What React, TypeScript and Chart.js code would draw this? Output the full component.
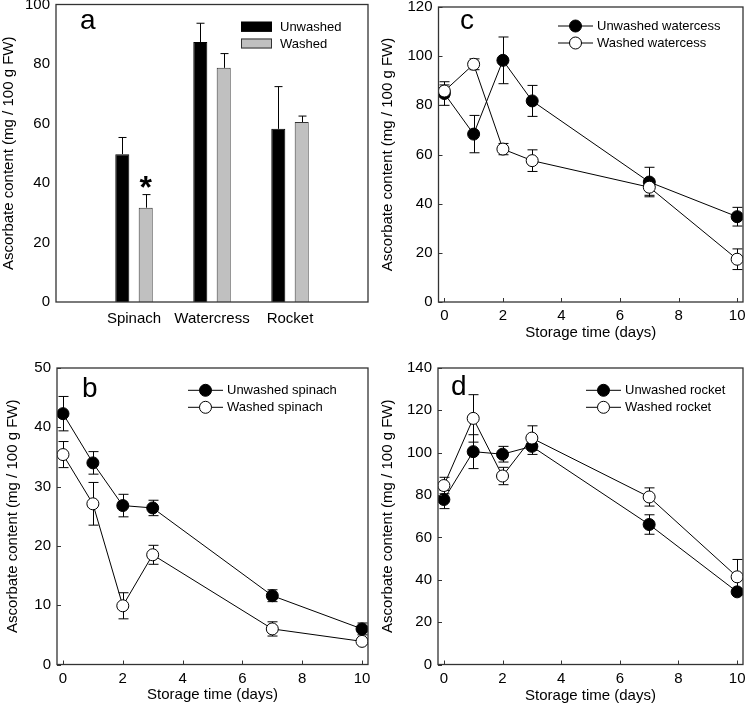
import React, { useEffect, useRef } from 'react';
import { Chart, registerables } from 'chart.js';
Chart.register(...registerables);

const FONT = "'Liberation Sans', Arial, Helvetica, sans-serif";
const W = 375;
const H = 353;

// ---- data ----
const categories = ['Spinach', 'Watercress', 'Rocket'];
const unwashedBar = [49.7, 87.4, 58.2];
const unwashedBarErr = [5.6, 6.3, 14.2];
const washedBar = [31.7, 78.7, 60.5];
const washedBarErr = [4.4, 4.8, 2.0];

const days = [0, 1, 2, 3, 7, 10];
const dayTicks = [0, 2, 4, 6, 8, 10];

const unwashedSpinach = [42.3, 34.0, 26.8, 26.4, 11.6, 6.0];
const unwashedSpinachErr = [2.9, 1.9, 1.9, 1.3, 1.0, 1.0];
const washedSpinach = [35.4, 27.1, 9.9, 18.5, 6.0, 3.9];
const washedSpinachErr = [2.2, 3.6, 2.2, 1.6, 1.2, 0.5];

const unwashedWatercress = [84.8, 68.3, 98.3, 81.8, 48.8, 34.7];
const unwashedWatercressErr = [4.8, 7.6, 9.5, 6.3, 6.0, 3.8];
const washedWatercress = [85.8, 96.7, 62.2, 57.5, 46.7, 17.4];
const washedWatercressErr = [2.5, 2.2, 2.3, 4.4, 3.3, 4.2];

const unwashedRocket = [77.9, 100.5, 99.3, 103.0, 66.1, 34.3];
const unwashedRocketErr = [4.3, 8.0, 3.7, 3.8, 4.6, 1.5];
const washedRocket = [84.5, 116.2, 89.0, 106.9, 79.1, 41.4];
const washedRocketErr = [3.9, 11.2, 4.1, 5.8, 4.3, 8.2];

const Y_TITLE = 'Ascorbate content (mg / 100 g FW)';
const X_TITLE = 'Storage time (days)';

type Area = { left: number; top: number; right: number; bottom: number };

function drawFrame(chart: any) {
  const { ctx, chartArea } = chart;
  ctx.save();
  ctx.strokeStyle = '#333';
  ctx.lineWidth = 1.3;
  ctx.strokeRect(chartArea.left, chartArea.top, chartArea.right - chartArea.left, chartArea.bottom - chartArea.top);
  ctx.restore();
}

function lineConfig(p: {
  letter: string;
  letterX: number;
  letterY: number;
  area: Area;
  yMax: number;
  yStep: number;
  names: string[];
  series: number[][];
  errors: number[][];
  legendX: number;
  legendY: number;
  yTitlePad: number;
  xTitlePad: number;
}) {
  const plugin = {
    id: 'panel',
    beforeDatasetsDraw(chart: any) {
      const ctx = chart.ctx;
      const xs = chart.scales.x;
      const ys = chart.scales.y;
      ctx.save();
      ctx.strokeStyle = '#000';
      ctx.lineWidth = 1;
      p.series.forEach((vals, si) => {
        vals.forEach((v, i) => {
          const e = p.errors[si][i];
          const px = Math.round(xs.getPixelForValue(days[i])) + 0.5;
          const y1 = ys.getPixelForValue(v + e);
          const y2 = ys.getPixelForValue(v - e);
          ctx.beginPath();
          ctx.moveTo(px, y1);
          ctx.lineTo(px, y2);
          ctx.moveTo(px - 5, y1);
          ctx.lineTo(px + 5, y1);
          ctx.moveTo(px - 5, y2);
          ctx.lineTo(px + 5, y2);
          ctx.stroke();
        });
      });
      ctx.restore();
    },
    afterDraw(chart: any) {
      const ctx = chart.ctx;
      const xs = chart.scales.x;
      const ys = chart.scales.y;
      const a = chart.chartArea;
      drawFrame(chart);
      ctx.save();
      ctx.strokeStyle = '#333';
      ctx.lineWidth = 1;
      dayTicks.forEach((t) => {
        const px = Math.round(xs.getPixelForValue(t)) + 0.5;
        ctx.beginPath();
        ctx.moveTo(px, a.bottom);
        ctx.lineTo(px, a.bottom - 4);
        ctx.stroke();
      });
      for (let v = 0; v <= p.yMax; v += p.yStep) {
        const py = Math.round(ys.getPixelForValue(v)) + 0.5;
        ctx.beginPath();
        ctx.moveTo(a.left, py);
        ctx.lineTo(a.left + 4, py);
        ctx.stroke();
      }
      // legend
      ctx.font = `13px ${FONT}`;
      ctx.textBaseline = 'middle';
      ctx.textAlign = 'left';
      p.names.forEach((name, i) => {
        const ry = p.legendY + i * 17;
        const lx = p.legendX;
        ctx.strokeStyle = '#000';
        ctx.lineWidth = 1;
        ctx.beginPath();
        ctx.moveTo(lx, ry);
        ctx.lineTo(lx + 35, ry);
        ctx.stroke();
        ctx.beginPath();
        ctx.arc(lx + 17.5, ry, 6, 0, Math.PI * 2);
        ctx.fillStyle = i === 0 ? '#000' : '#fff';
        ctx.fill();
        ctx.stroke();
        ctx.fillStyle = '#000';
        ctx.fillText(name, lx + 39, ry + 0.5);
      });
      ctx.font = `28px ${FONT}`;
      ctx.textBaseline = 'alphabetic';
      ctx.fillText(p.letter, p.letterX, p.letterY);
      ctx.restore();
    },
  };

  return {
    type: 'line',
    data: {
      datasets: p.series.map((vals, si) => ({
        label: p.names[si],
        data: vals.map((v, i) => ({ x: days[i], y: v })),
        borderColor: '#000',
        borderWidth: 1,
        pointRadius: 6,
        pointHoverRadius: 6,
        pointBackgroundColor: si === 0 ? '#000' : '#fff',
        pointBorderColor: '#000',
        pointBorderWidth: 1,
        order: si === 0 ? 1 : 0,
        tension: 0,
        fill: false,
      })),
    },
    options: {
      animation: false,
      responsive: false,
      maintainAspectRatio: false,
      events: [],
      layout: { padding: { left: 0, top: p.area.top, right: W - p.area.right, bottom: 0 } },
      plugins: { legend: { display: false }, tooltip: { enabled: false } },
      scales: {
        x: {
          type: 'linear',
          min: -0.2,
          max: 10.2,
          afterBuildTicks: (s: any) => {
            s.ticks = dayTicks.map((v) => ({ value: v }));
          },
          afterFit: (s: any) => {
            s.height = H - p.area.bottom;
            s.paddingLeft = 0;
            s.paddingRight = 0;
          },
          grid: { display: false, drawTicks: false },
          border: { display: false },
          ticks: { color: '#000', font: { family: FONT, size: 15 }, padding: 5, maxRotation: 0, autoSkip: false },
          title: { display: true, text: X_TITLE, color: '#000', font: { family: FONT, size: 15 }, padding: { top: 0, bottom: p.xTitlePad } },
        },
        y: {
          min: 0,
          max: p.yMax,
          ticks: { stepSize: p.yStep, color: '#000', font: { family: FONT, size: 15 }, padding: 6 },
          afterFit: (s: any) => {
            s.width = p.area.left;
            s.paddingTop = 0;
            s.paddingBottom = 0;
          },
          grid: { display: false, drawTicks: false },
          border: { display: false },
          title: { display: true, text: Y_TITLE, color: '#000', font: { family: FONT, size: 15 }, padding: { top: p.yTitlePad, bottom: 0 } },
        },
      },
    },
    plugins: [plugin],
  };
}

function barConfig() {
  const area: Area = { left: 56, top: 4.5, right: 368, bottom: 302 };
  const labels = ['', ...categories, ''];
  const plugin = {
    id: 'barPanel',
    afterDatasetsDraw(chart: any) {
      const ctx = chart.ctx;
      const ys = chart.scales.y;
      ctx.save();
      ctx.strokeStyle = '#000';
      ctx.lineWidth = 1;
      const errs = [unwashedBarErr, washedBarErr];
      const vals = [unwashedBar, washedBar];
      [0, 1].forEach((di) => {
        const meta = chart.getDatasetMeta(di);
        vals[di].forEach((v, i) => {
          const el = meta.data[i + 1];
          const px = Math.round(el.x) + 0.5;
          const y0 = ys.getPixelForValue(v);
          const y1 = ys.getPixelForValue(v + errs[di][i]);
          ctx.beginPath();
          ctx.moveTo(px, y0);
          ctx.lineTo(px, y1);
          ctx.moveTo(px - 4, y1);
          ctx.lineTo(px + 4, y1);
          ctx.stroke();
        });
      });
      // asterisk over washed spinach
      const el = chart.getDatasetMeta(1).data[1];
      ctx.fillStyle = '#000';
      ctx.font = `bold 32px ${FONT}`;
      ctx.textAlign = 'center';
      ctx.textBaseline = 'alphabetic';
      ctx.fillText('*', el.x, 198);
      ctx.restore();
    },
    afterDraw(chart: any) {
      const ctx = chart.ctx;
      drawFrame(chart);
      ctx.save();
      // legend
      const rows = [
        { name: 'Unwashed', fill: '#000', stroke: '#000' },
        { name: 'Washed', fill: '#c0c0c0', stroke: '#333' },
      ];
      ctx.font = `13px ${FONT}`;
      ctx.textBaseline = 'middle';
      ctx.textAlign = 'left';
      rows.forEach((r, i) => {
        const cy = 26.7 + i * 16.8;
        ctx.fillStyle = r.fill;
        ctx.fillRect(241, cy - 5, 31, 10);
        ctx.strokeStyle = r.stroke;
        ctx.lineWidth = 1;
        ctx.strokeRect(241.5, cy - 4.5, 30, 9);
        ctx.fillStyle = '#000';
        ctx.fillText(r.name, 280, cy + 0.5);
      });
      ctx.font = `28px ${FONT}`;
      ctx.textBaseline = 'alphabetic';
      ctx.fillText('a', 80, 29);
      ctx.restore();
    },
  };
  return {
    type: 'bar',
    data: {
      labels,
      datasets: [
        {
          label: 'Unwashed',
          data: [null, ...unwashedBar, null],
          backgroundColor: '#000',
          borderColor: '#000',
          borderWidth: 1,
          barPercentage: 0.6,
          categoryPercentage: 0.6,
        },
        {
          label: 'Washed',
          data: [null, ...washedBar, null],
          backgroundColor: '#c0c0c0',
          borderColor: '#333',
          borderWidth: 1,
          barPercentage: 0.6,
          categoryPercentage: 0.6,
        },
      ],
    },
    options: {
      animation: false,
      responsive: false,
      maintainAspectRatio: false,
      events: [],
      layout: { padding: { left: 0, top: area.top, right: W - area.right, bottom: 0 } },
      plugins: { legend: { display: false }, tooltip: { enabled: false } },
      scales: {
        x: {
          type: 'category',
          offset: false,
          afterFit: (s: any) => {
            s.height = H - area.bottom;
            s.paddingLeft = 0;
            s.paddingRight = 0;
          },
          grid: { display: false, drawTicks: false, offset: false },
          border: { display: false },
          ticks: { color: '#000', font: { family: FONT, size: 15 }, padding: 8, maxRotation: 0, autoSkip: false },
        },
        y: {
          min: 0,
          max: 100,
          ticks: { stepSize: 20, color: '#000', font: { family: FONT, size: 15 }, padding: 6 },
          afterFit: (s: any) => {
            s.width = area.left;
            s.paddingTop = 0;
            s.paddingBottom = 0;
          },
          grid: { display: false, drawTicks: false },
          border: { display: false },
          title: { display: true, text: Y_TITLE, color: '#000', font: { family: FONT, size: 15 }, padding: { top: 0, bottom: 0 } },
        },
      },
    },
    plugins: [plugin],
  };
}

function Panel({ left, top, make }: { left: number; top: number; make: () => any }) {
  const ref = useRef<HTMLCanvasElement | null>(null);
  useEffect(() => {
    if (!ref.current) return;
    const chart = new Chart(ref.current, make());
    return () => chart.destroy();
  }, []);
  return (
    <canvas
      ref={ref}
      width={W}
      height={H}
      style={{ position: 'absolute', left, top, width: W, height: H, display: 'block' }}
    />
  );
}

export default function App() {
  useEffect(() => {
    document.body.style.margin = '0';
    document.body.style.background = '#fff';
  }, []);
  return (
    <div style={{ position: 'relative', width: 750, height: 706, background: '#fff', overflow: 'hidden' }}>
      <Panel left={0} top={0} make={barConfig} />
      <Panel
        left={375}
        top={0}
        make={() =>
          lineConfig({
            letter: 'c',
            letterX: 85,
            letterY: 29,
            area: { left: 63.5, top: 5, right: 374, bottom: 302 },
            yMax: 120,
            yStep: 20,
            names: ['Unwashed watercess', 'Washed watercess'],
            series: [unwashedWatercress, washedWatercress],
            errors: [unwashedWatercressErr, washedWatercressErr],
            legendX: 183,
            legendY: 26,
            yTitlePad: 4,
            xTitlePad: 11,
          })
        }
      />
      <Panel
        left={0}
        top={353}
        make={() =>
          lineConfig({
            letter: 'b',
            letterX: 82,
            letterY: 43.5,
            area: { left: 57, top: 15, right: 368.5, bottom: 311.5 },
            yMax: 50,
            yStep: 10,
            names: ['Unwashed spinach', 'Washed spinach'],
            series: [unwashedSpinach, washedSpinach],
            errors: [unwashedSpinachErr, washedSpinachErr],
            legendX: 188,
            legendY: 37.3,
            yTitlePad: 4,
            xTitlePad: 2,
          })
        }
      />
      <Panel
        left={375}
        top={353}
        make={() =>
          lineConfig({
            letter: 'd',
            letterX: 76,
            letterY: 42,
            area: { left: 63, top: 15, right: 374, bottom: 311.5 },
            yMax: 140,
            yStep: 20,
            names: ['Unwashed rocket', 'Washed rocket'],
            series: [unwashedRocket, washedRocket],
            errors: [unwashedRocketErr, washedRocketErr],
            legendX: 211,
            legendY: 37.3,
            yTitlePad: 4,
            xTitlePad: 1,
          })
        }
      />
    </div>
  );
}
